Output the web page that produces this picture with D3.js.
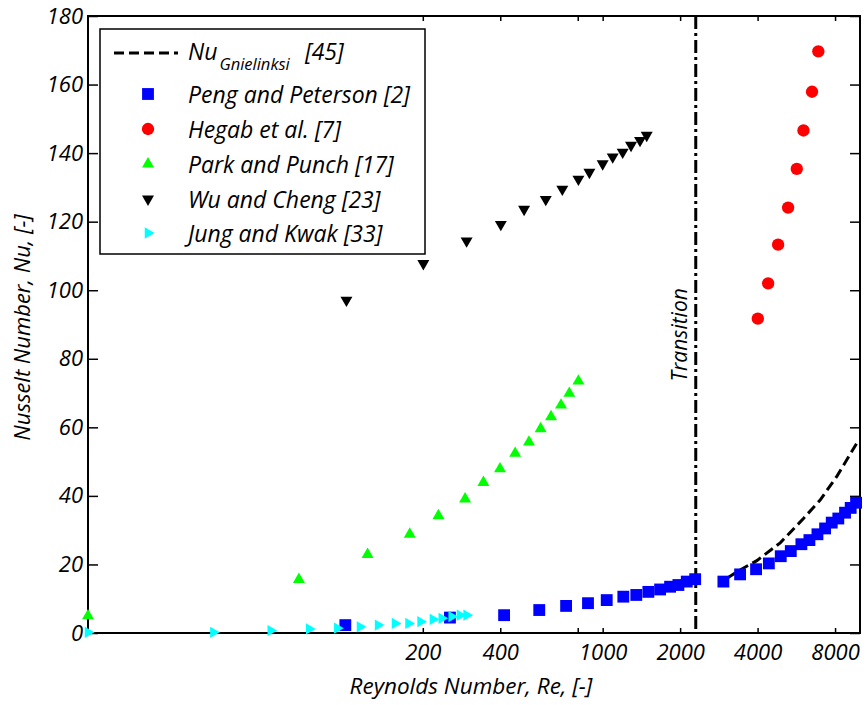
<!DOCTYPE html>
<html>
<head>
<meta charset="utf-8">
<script src="https://cdnjs.cloudflare.com/ajax/libs/d3/7.8.5/d3.min.js"></script>
<style>
body { margin: 0; background: #fff; }
text { font-family: "Open Sans", Lato, sans-serif; font-style: italic; fill: #000; }
</style>
</head>
<body>
<svg id="chart" width="866" height="705"></svg>
<script>
// ------------------ DATA ------------------

let gnielRe = [3034, 3420, 3972, 4898, 6030, 7000, 8128, 9722];
let gnielNu = [15.9, 18.4, 21.1, 26.3, 33.4, 38.8, 45.7, 55.4];

let pengRe = [100, 255, 414, 567, 721, 877, 1037, 1203, 1351, 1505, 1672, 1828, 1969, 2122, 2288,
    2945, 3420, 3946, 4424, 4921, 5383, 5919, 6359, 6833, 7318, 7765, 8236, 8747, 9200, 9655];
let pengNu = [2.3, 4.5, 5.2, 6.7, 7.9, 8.7, 9.6, 10.6, 11.1, 12.0, 12.7, 13.5, 14.0, 15.0, 15.7,
    15.0, 17.1, 18.6, 20.3, 22.4, 23.9, 25.9, 27.1, 28.8, 30.5, 32.2, 33.4, 35.1, 36.5, 38.0];

let hegabRe = [4008, 4396, 4806, 5255, 5680, 6030, 6510, 6887];
let hegabNu = [91.7, 102.0, 113.3, 124.1, 135.4, 146.6, 157.9, 169.7];

let parkRe = [10, 66, 122, 178, 230, 292, 344, 399, 457, 517, 574, 630, 689, 742, 805];
let parkNu = [5.0, 15.6, 22.9, 28.8, 34.2, 39.1, 43.9, 47.9, 52.4, 55.7, 59.6, 63.1, 66.5, 69.9, 73.5];

let wuRe = [101, 201, 296, 402, 495, 601, 697, 805, 888, 1000, 1094, 1196, 1289, 1397, 1483];
let wuNu = [97.1, 107.8, 114.4, 119.2, 123.6, 126.5, 129.5, 132.4, 134.4, 136.9, 138.9, 140.3, 142.3, 143.7, 145.2];

let jungRe = [10, 30.7, 51.3, 72.4, 93.1, 114, 134, 156, 176, 196, 219, 237, 259, 279, 296];
let jungNu = [0.2, 0.2, 0.7, 1.2, 1.4, 1.8, 2.3, 2.8, 2.8, 3.3, 4.0, 4.3, 4.8, 5.2, 5.2];

let transitionRe = 2300;

let xTicks = [200, 400, 800, 1000, 2000, 4000, 8000];
let xTickLabels = ["200", "400", "", "1000", "2000", "4000", "8000"];
let yTicks = [0, 20, 40, 60, 80, 100, 120, 140, 160, 180];

// ------------------ SETUP ------------------

let svg = d3.select("#chart");
let width = 866;
let height = 705;
let margin = { top: 16, right: 6, bottom: 72, left: 88 };

let x = d3.scaleLog().domain([10, 10000]).range([margin.left, width - margin.right]);
let y = d3.scaleLinear().domain([0, 180]).range([height - margin.bottom, margin.top]);

let zip = (a, b) => a.map((v, i) => [v, b[i]]);

// ------------------ AXES ------------------

let xAxisBottom = d3.axisBottom(x).tickValues(xTicks)
    .tickFormat((d, i) => xTickLabels[i]).tickSizeInner(-5).tickSizeOuter(0).tickPadding(11);
let xAxisTop = d3.axisTop(x).tickValues(xTicks).tickFormat("").tickSizeInner(-5).tickSizeOuter(0);
let yAxisLeft = d3.axisLeft(y).tickValues(yTicks).tickSizeInner(-10).tickSizeOuter(0).tickPadding(5);
let yAxisRight = d3.axisRight(y).tickValues(yTicks).tickFormat("").tickSizeInner(-10).tickSizeOuter(0);

function styleAxis(g) {
    g.select(".domain").remove();
    g.selectAll(".tick line").attr("stroke", "#000").attr("stroke-width", 1.5);
    g.selectAll(".tick text").style("font-size", "22px").style("font-family", "'Open Sans'").style("font-style", "italic");
}

svg.append("g").attr("transform", `translate(0,${height - margin.bottom})`).call(xAxisBottom).call(styleAxis);
svg.append("g").attr("transform", `translate(0,${margin.top})`).call(xAxisTop).call(styleAxis);
svg.append("g").attr("transform", `translate(${margin.left},0)`).call(yAxisLeft).call(styleAxis);
svg.append("g").attr("transform", `translate(${width - margin.right},0)`).call(yAxisRight).call(styleAxis);

// frame
svg.append("rect")
    .attr("x", margin.left).attr("y", margin.top)
    .attr("width", width - margin.left - margin.right)
    .attr("height", height - margin.top - margin.bottom)
    .attr("fill", "none").attr("stroke", "#000").attr("stroke-width", 2);

// axis titles
svg.append("text")
    .attr("x", 471)
    .attr("y", 694)
    .attr("text-anchor", "middle")
    .style("font-size", "22.5px")
    .text("Reynolds Number, Re, [-]");

svg.append("text")
    .attr("transform", `translate(30,${(margin.top + height - margin.bottom) / 2 + 3}) rotate(-90)`)
    .attr("text-anchor", "middle")
    .style("font-size", "22px")
    .text("Nusselt Number, Nu, [-]");

// ------------------ TRANSITION ------------------

svg.append("line")
    .attr("x1", x(transitionRe)).attr("x2", x(transitionRe))
    .attr("y1", y(180)).attr("y2", y(0))
    .attr("stroke", "#000").attr("stroke-width", 3)
    .attr("stroke-dasharray", "13,4,3,4");

svg.append("text")
    .attr("transform", `translate(${x(transitionRe) - 9},${y(87)}) rotate(-90)`)
    .attr("text-anchor", "middle")
    .style("font-size", "21px")
    .text("Transition");

// ------------------ SERIES ------------------

let line = d3.line().x(d => x(d[0])).y(d => y(d[1]));

svg.append("path")
    .datum(zip(gnielRe, gnielNu))
    .attr("d", line)
    .attr("fill", "none").attr("stroke", "#000").attr("stroke-width", 3)
    .attr("stroke-dasharray", "10,5");

let series = [
    { re: pengRe, nu: pengNu, type: d3.symbolSquare, size: 140, rot: 0, color: "#0000ff", label: "Peng and Peterson [2]" },
    { re: hegabRe, nu: hegabNu, type: d3.symbolCircle, size: 120, rot: 0, color: "#ff0000", label: "Hegab et al. [7]" },
    { re: parkRe, nu: parkNu, type: d3.symbolTriangle, size: 62, rot: 0, color: "#00ff00", label: "Park and Punch [17]" },
    { re: wuRe, nu: wuNu, type: d3.symbolTriangle, size: 62, rot: 180, color: "#000000", label: "Wu and Cheng [23]" },
    { re: jungRe, nu: jungNu, type: d3.symbolTriangle, size: 55, rot: 90, color: "#00ffff", label: "Jung and Kwak [33]" }
];

series.forEach(s => {
    let sym = d3.symbol().type(s.type).size(s.size);
    svg.append("g")
        .selectAll("path")
        .data(zip(s.re, s.nu))
        .enter().append("path")
        .attr("d", sym)
        .attr("transform", d => `translate(${x(d[0])},${y(d[1])}) rotate(${s.rot})`)
        .attr("fill", s.color);
});

// ------------------ LEGEND ------------------

let legend = svg.append("g");

legend.append("rect")
    .attr("x", 100).attr("y", 29).attr("width", 325).attr("height", 225)
    .attr("fill", "#fff").attr("stroke", "#000").attr("stroke-width", 1.5);

legend.append("line")
    .attr("x1", 114).attr("x2", 178).attr("y1", 53).attr("y2", 53)
    .attr("stroke", "#000").attr("stroke-width", 3).attr("stroke-dasharray", "10,5");

let nuText = legend.append("text").attr("x", 188).attr("y", 60).style("font-size", "23px");
nuText.append("tspan").text("Nu");
nuText.append("tspan").attr("dx", 2).attr("dy", 10).style("font-size", "16.5px").text("Gnielinksi");
legend.append("text").attr("x", 305).attr("y", 60).style("font-size", "23px").text("[45]");

let rowY = [95, 130, 165, 200, 234];
series.forEach((s, i) => {
    let sym = d3.symbol().type(s.type).size(s.size);
    legend.append("path")
        .attr("d", sym)
        .attr("transform", `translate(148,${rowY[i] - 1}) rotate(${s.rot})`)
        .attr("fill", s.color);
    legend.append("text")
        .attr("x", 188).attr("y", rowY[i] + 8)
        .style("font-size", "23px")
        .text(s.label);
});
</script>
</body>
</html>
